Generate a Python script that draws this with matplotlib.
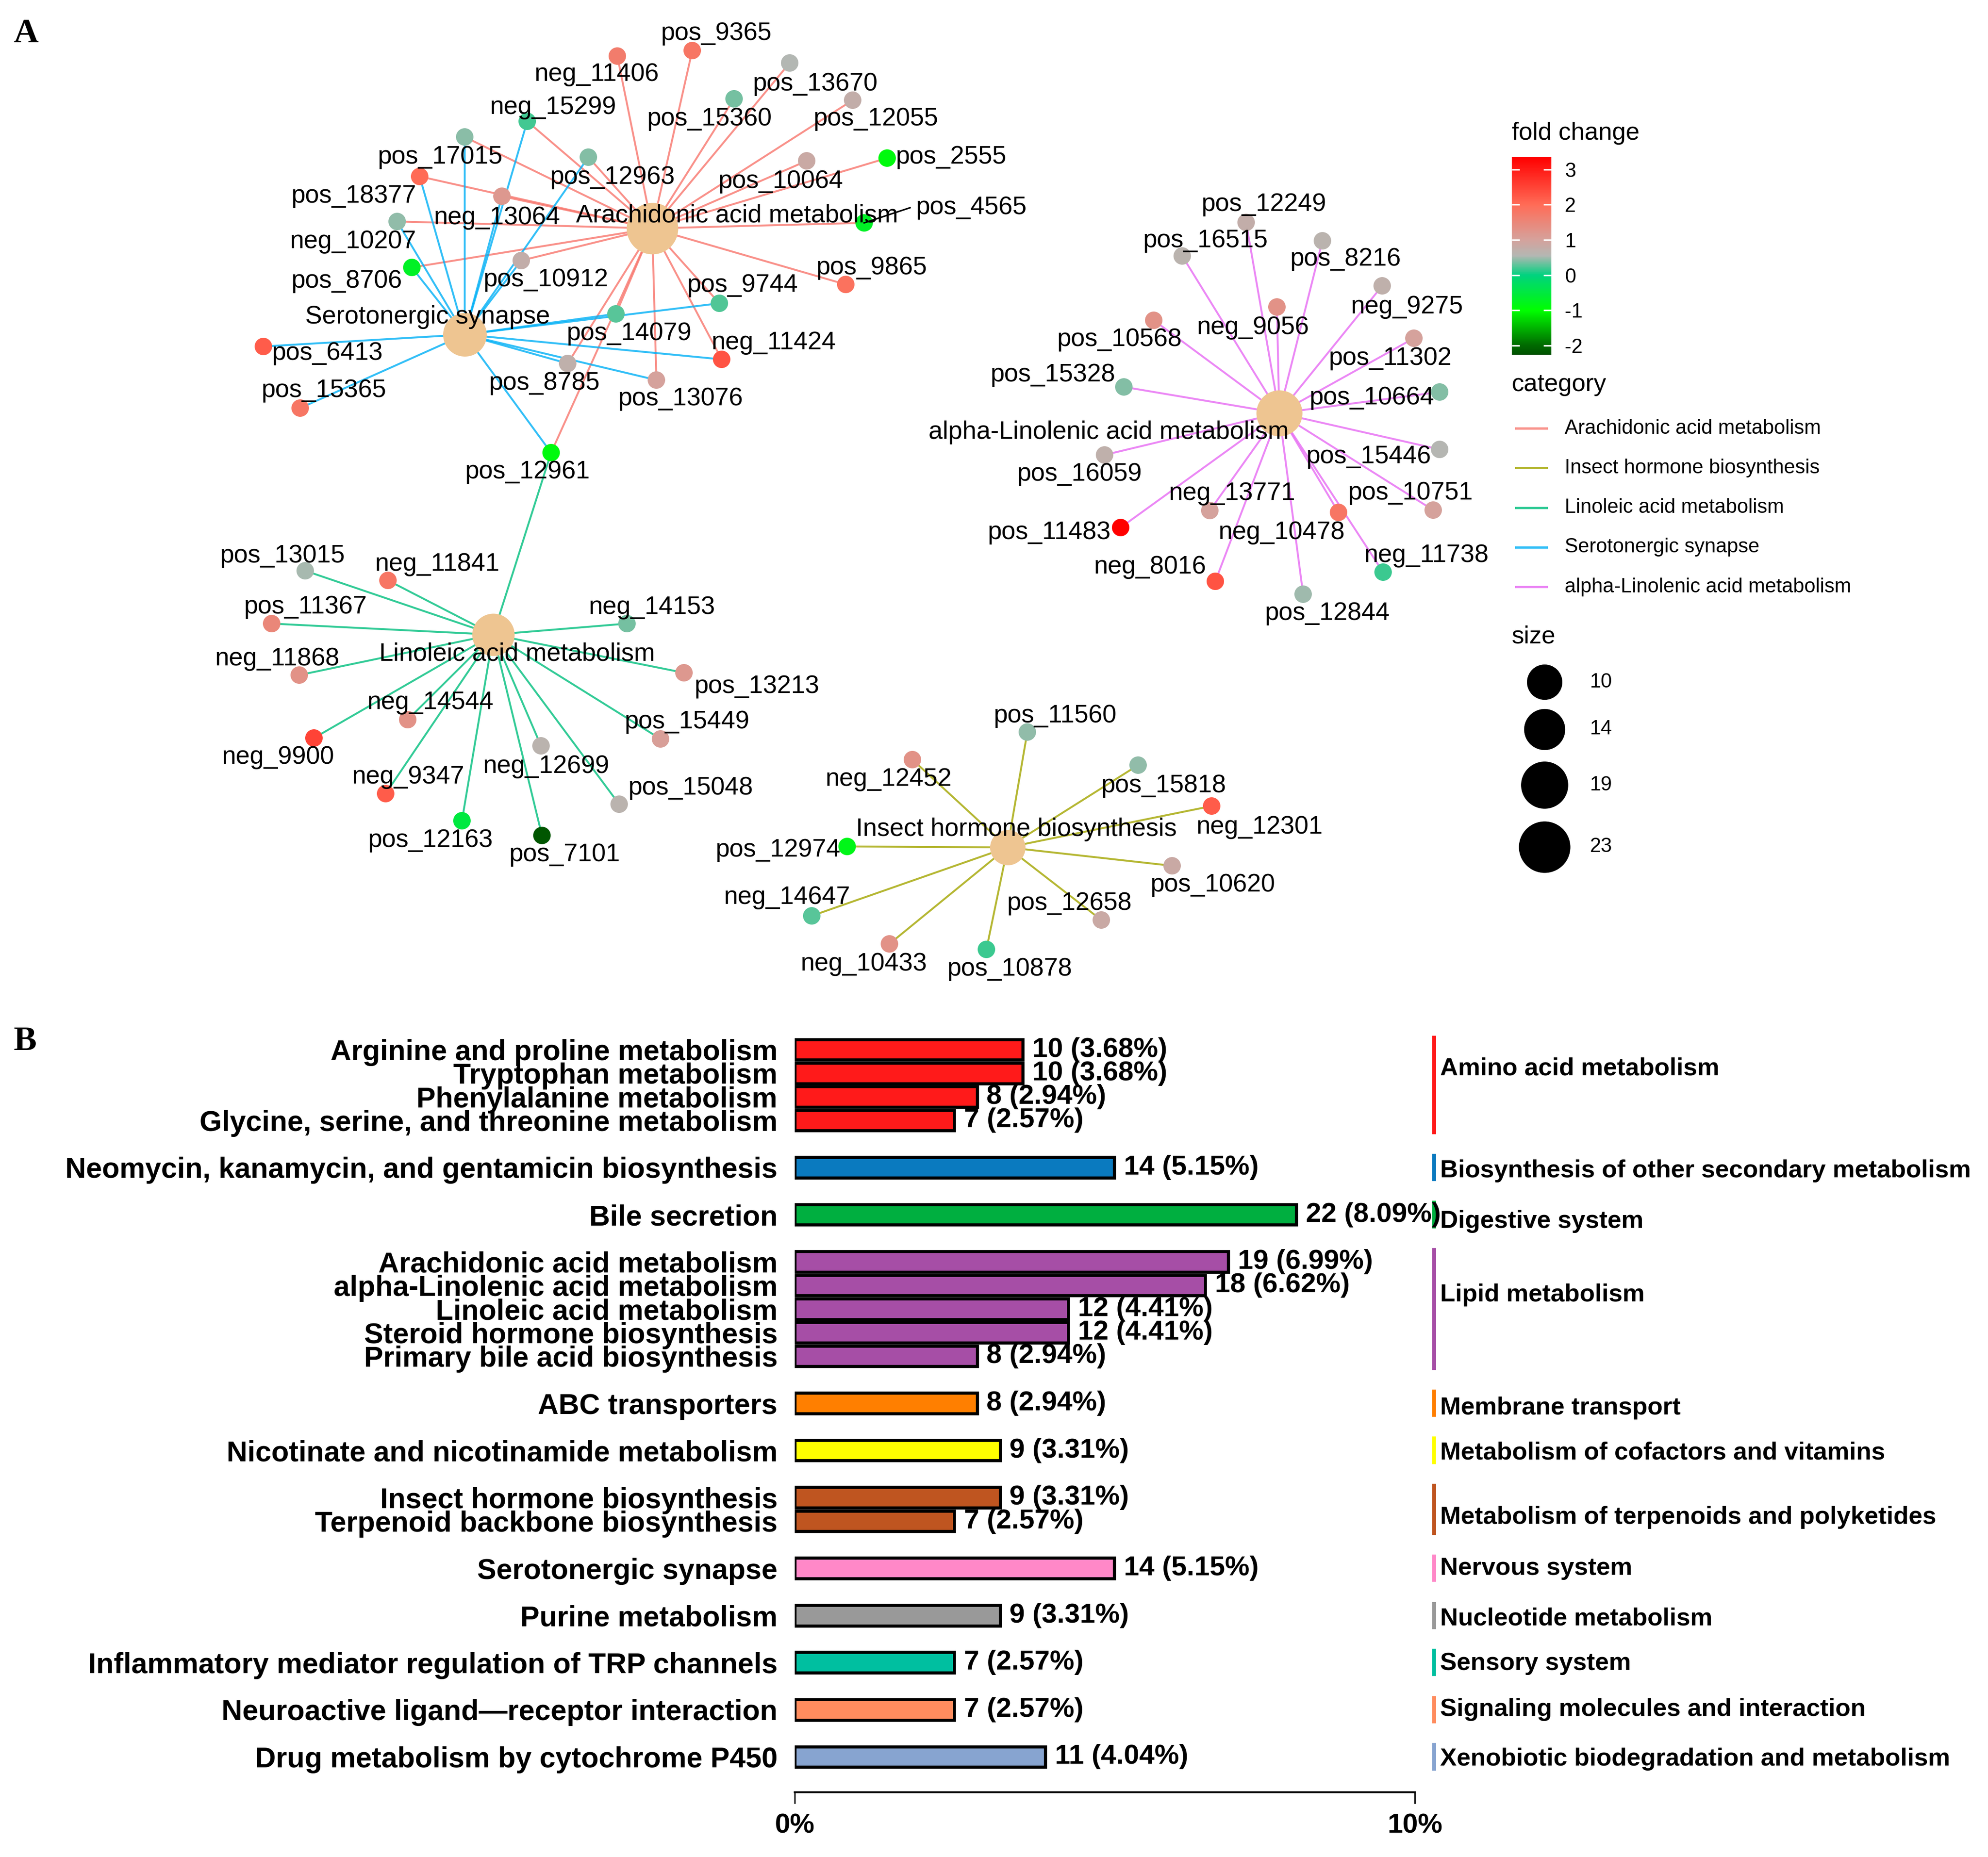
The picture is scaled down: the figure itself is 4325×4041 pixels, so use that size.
import numpy as np
import matplotlib
matplotlib.use('Agg')
import matplotlib.pyplot as plt
from matplotlib.colors import LinearSegmentedColormap, Normalize
from matplotlib.cm import ScalarMappable

plt.rcParams['font.family'] = ['Liberation Sans', 'DejaVu Sans']
plt.rcParams['axes.unicode_minus'] = False

W, H = 4325, 4041
DPI = 300
PT = 72 / DPI  # points per pixel

# ---------------- panel A data ----------------
pathways = ['Arachidonic acid metabolism', 'Insect hormone biosynthesis',
            'Linoleic acid metabolism', 'Serotonergic synapse',
            'alpha-Linolenic acid metabolism']
pathway_colors = ['#F8766D', '#A3A500', '#00BF7D', '#00B0F6', '#E76BF3']

arachidonic = ['pos_9365', 'neg_11406', 'pos_13670', 'pos_15360', 'pos_12055',
               'pos_2555', 'pos_10064', 'pos_4565', 'pos_9865', 'neg_15299',
               'pos_17015', 'pos_12963', 'pos_18377', 'neg_13064', 'neg_10207',
               'pos_8706', 'pos_10912', 'pos_9744', 'pos_14079', 'neg_11424',
               'pos_8785', 'pos_13076', 'pos_12961']
serotonergic = ['neg_15299', 'pos_17015', 'pos_12963', 'pos_18377', 'neg_13064',
                'neg_10207', 'pos_8706', 'pos_10912', 'pos_9744', 'pos_14079',
                'pos_8785', 'pos_13076', 'neg_11424', 'pos_12961', 'pos_6413',
                'pos_15365']
linoleic = ['pos_13015', 'neg_11841', 'pos_11367', 'neg_14153', 'neg_11868',
            'pos_13213', 'neg_14544', 'pos_15449', 'neg_9900', 'neg_12699',
            'neg_9347', 'pos_15048', 'pos_12163', 'pos_7101', 'pos_12961']
alpha_linolenic = ['pos_12249', 'pos_16515', 'pos_8216', 'neg_9275', 'neg_9056',
                   'pos_10568', 'pos_11302', 'pos_15328', 'pos_10664', 'pos_16059',
                   'pos_15446', 'pos_11483', 'neg_13771', 'pos_10751', 'neg_10478',
                   'neg_8016', 'neg_11738', 'pos_12844']
insect_hormone = ['pos_11560', 'neg_12452', 'pos_15818', 'neg_12301', 'pos_12974',
                  'pos_10620', 'neg_14647', 'pos_12658', 'neg_10433', 'pos_10878']
pathway_members = [arachidonic, insect_hormone, linoleic, serotonergic, alpha_linolenic]

fold_change = {
    'pos_9365': 1.8, 'neg_11406': 1.7, 'pos_13670': 0.55, 'pos_15360': 0.35,
    'pos_12055': 0.75, 'pos_2555': -0.9, 'pos_10064': 0.85, 'pos_4565': -0.7,
    'pos_9865': 1.9, 'neg_15299': 0.2, 'pos_17015': 0.42, 'pos_12963': 0.4,
    'pos_18377': 2.0, 'neg_13064': 1.2, 'neg_10207': 0.45, 'pos_8706': -0.7,
    'pos_10912': 0.75, 'pos_9744': 0.25, 'pos_14079': 0.28, 'neg_11424': 2.3,
    'pos_8785': 0.7, 'pos_13076': 1.0, 'pos_12961': -0.9, 'pos_6413': 2.2,
    'pos_15365': 1.8,
    'pos_12249': 0.75, 'pos_16515': 0.65, 'pos_8216': 0.65, 'neg_9275': 0.7,
    'neg_9056': 1.3, 'pos_10568': 1.3, 'pos_11302': 1.0, 'pos_15328': 0.4,
    'pos_10664': 0.4, 'pos_16059': 0.72, 'pos_15446': 0.58, 'pos_11483': 3.35,
    'neg_13771': 1.0, 'pos_10751': 1.0, 'neg_10478': 1.8, 'neg_8016': 2.3,
    'neg_11738': 0.18, 'pos_12844': 0.5,
    'pos_13015': 0.52, 'neg_11841': 1.8, 'pos_11367': 1.5, 'neg_14153': 0.35,
    'neg_11868': 1.3, 'pos_13213': 1.2, 'neg_14544': 1.3, 'pos_15449': 1.05,
    'neg_9900': 2.5, 'neg_12699': 0.65, 'neg_9347': 2.2, 'pos_15048': 0.65,
    'pos_12163': -0.5, 'pos_7101': -2.2,
    'pos_11560': 0.45, 'neg_12452': 1.3, 'pos_15818': 0.45, 'neg_12301': 2.2,
    'pos_12974': -0.8, 'pos_10620': 0.85, 'neg_14647': 0.28, 'pos_12658': 0.85,
    'neg_10433': 1.3, 'pos_10878': 0.18,
}

size_breaks = [10, 14, 19, 23]

# network layout (node position, label position), in pixels
node_xy = {
    'Arachidonic acid metabolism': (1419, 497), 'Serotonergic synapse': (1011, 728),
    'Linoleic acid metabolism': (1073, 1381), 'alpha-Linolenic acid metabolism': (2783, 899),
    'Insect hormone biosynthesis': (2192, 1844),
    'pos_9365': (1506, 110), 'neg_11406': (1343, 122), 'pos_13670': (1718, 137),
    'pos_15360': (1597, 215), 'pos_12055': (1855, 218), 'pos_2555': (1930, 344),
    'pos_10064': (1755, 350), 'pos_4565': (1880, 485), 'pos_9865': (1840, 619),
    'neg_15299': (1147, 264), 'pos_17015': (1011, 298), 'pos_12963': (1280, 342),
    'pos_18377': (913, 384), 'neg_13064': (1092, 427), 'neg_10207': (864, 482),
    'pos_8706': (896, 582), 'pos_10912': (1134, 567), 'pos_9744': (1565, 660),
    'pos_14079': (1340, 683), 'neg_11424': (1570, 782), 'pos_8785': (1235, 791),
    'pos_13076': (1428, 827), 'pos_12961': (1199, 985), 'pos_6413': (573, 754),
    'pos_15365': (653, 888),
    'pos_12249': (2711, 484), 'pos_16515': (2572, 557), 'pos_8216': (2877, 524),
    'neg_9275': (3007, 622), 'neg_9056': (2778, 668), 'pos_10568': (2510, 697),
    'pos_11302': (3076, 736), 'pos_15328': (2445, 842), 'pos_10664': (3132, 853),
    'pos_16059': (2403, 990), 'pos_15446': (3132, 978), 'pos_11483': (2438, 1148),
    'neg_13771': (2632, 1111), 'pos_10751': (3118, 1110), 'neg_10478': (2912, 1115),
    'neg_8016': (2644, 1265), 'neg_11738': (3009, 1245), 'pos_12844': (2835, 1293),
    'pos_13015': (664, 1242), 'neg_11841': (844, 1263), 'pos_11367': (591, 1357),
    'neg_14153': (1364, 1357), 'neg_11868': (651, 1469), 'pos_13213': (1488, 1464),
    'neg_14544': (887, 1566), 'pos_15449': (1437, 1608), 'neg_9900': (683, 1606),
    'neg_12699': (1177, 1623), 'neg_9347': (839, 1727), 'pos_15048': (1347, 1750),
    'pos_12163': (1005, 1786), 'pos_7101': (1179, 1818),
    'pos_11560': (2235, 1593), 'neg_12452': (1985, 1653), 'pos_15818': (2476, 1665),
    'neg_12301': (2636, 1754), 'pos_12974': (1843, 1842), 'pos_10620': (2550, 1884),
    'neg_14647': (1766, 1993), 'pos_12658': (2396, 2002), 'neg_10433': (1935, 2054),
    'pos_10878': (2146, 2066),
}
label_xy = {
    'Arachidonic acid metabolism': (1603, 469), 'Serotonergic synapse': (930, 690),
    'Linoleic acid metabolism': (1125, 1424), 'alpha-Linolenic acid metabolism': (2412, 941),
    'Insect hormone biosynthesis': (2211, 1805),
    'pos_9365': (1558, 73), 'neg_11406': (1298, 162), 'pos_13670': (1773, 183),
    'pos_15360': (1543, 259), 'pos_12055': (1905, 259), 'pos_2555': (2069, 342),
    'pos_10064': (1698, 395), 'pos_4565': (2113, 452), 'pos_9865': (1896, 583),
    'neg_15299': (1203, 234), 'pos_17015': (957, 342), 'pos_12963': (1332, 386),
    'pos_18377': (770, 427), 'neg_13064': (1081, 474), 'neg_10207': (768, 526),
    'pos_8706': (754, 612), 'pos_10912': (1187, 609), 'pos_9744': (1615, 621),
    'pos_14079': (1368, 726), 'neg_11424': (1683, 746), 'pos_8785': (1184, 834),
    'pos_13076': (1480, 868), 'pos_12961': (1147, 1027), 'pos_6413': (712, 769),
    'pos_15365': (704, 850),
    'pos_12249': (2749, 445), 'pos_16515': (2622, 524), 'pos_8216': (2927, 564),
    'neg_9275': (3061, 668), 'neg_9056': (2726, 713), 'pos_10568': (2435, 739),
    'pos_11302': (3024, 780), 'pos_15328': (2290, 816), 'pos_10664': (2984, 866),
    'pos_16059': (2348, 1032), 'pos_15446': (2977, 994), 'pos_11483': (2282, 1159),
    'neg_13771': (2680, 1074), 'pos_10751': (3068, 1073), 'neg_10478': (2788, 1159),
    'neg_8016': (2502, 1234), 'neg_11738': (3103, 1209), 'pos_12844': (2887, 1335),
    'pos_13015': (614, 1210), 'neg_11841': (951, 1228), 'pos_11367': (664, 1321),
    'neg_14153': (1418, 1322), 'neg_11868': (603, 1434), 'pos_13213': (1646, 1494),
    'neg_14544': (936, 1529), 'pos_15449': (1494, 1571), 'neg_9900': (605, 1648),
    'neg_12699': (1188, 1668), 'neg_9347': (888, 1691), 'pos_15048': (1502, 1715),
    'pos_12163': (936, 1829), 'pos_7101': (1228, 1860),
    'pos_11560': (2295, 1558), 'neg_12452': (1933, 1696), 'pos_15818': (2531, 1710),
    'neg_12301': (2740, 1800), 'pos_12974': (1692, 1850), 'pos_10620': (2638, 1926),
    'neg_14647': (1712, 1953), 'pos_12658': (2326, 1966), 'neg_10433': (1879, 2098),
    'pos_10878': (2196, 2109),
}

# ---------------- panel B data ----------------
bar_terms = ['Arginine and proline metabolism', 'Tryptophan metabolism',
             'Phenylalanine metabolism', 'Glycine, serine, and threonine metabolism',
             'Neomycin, kanamycin, and gentamicin biosynthesis', 'Bile secretion',
             'Arachidonic acid metabolism', 'alpha-Linolenic acid metabolism',
             'Linoleic acid metabolism', 'Steroid hormone biosynthesis',
             'Primary bile acid biosynthesis', 'ABC transporters',
             'Nicotinate and nicotinamide metabolism', 'Insect hormone biosynthesis',
             'Terpenoid backbone biosynthesis', 'Serotonergic synapse',
             'Purine metabolism', 'Inflammatory mediator regulation of TRP channels',
             'Neuroactive ligand\u2014receptor interaction',
             'Drug metabolism by cytochrome P450']
bar_counts = [10, 10, 8, 7, 14, 22, 19, 18, 12, 12, 8, 8, 9, 9, 7, 14, 9, 7, 7, 11]
bar_pcts = [3.68, 3.68, 2.94, 2.57, 5.15, 8.09, 6.99, 6.62, 4.41, 4.41, 2.94, 2.94,
            3.31, 3.31, 2.57, 5.15, 3.31, 2.57, 2.57, 4.04]
class_names = ['Amino acid metabolism', 'Biosynthesis of other secondary metabolism',
               'Digestive system', 'Lipid metabolism', 'Membrane transport',
               'Metabolism of cofactors and vitamins',
               'Metabolism of terpenoids and polyketides', 'Nervous system',
               'Nucleotide metabolism', 'Sensory system',
               'Signaling molecules and interaction',
               'Xenobiotic biodegradation and metabolism']
class_sizes = [4, 1, 1, 5, 1, 1, 2, 1, 1, 1, 1, 1]
class_colors = ['#FF1A1A', '#0A7ABF', '#00AF40', '#A64EA6', '#FF7F00', '#FFFF00',
                '#BF5520', '#FF88C8', '#999999', '#00BFA0', '#FF8C5E', '#87A4D0']
# vertical nudge of each class label (in rows), as placed in the original
class_label_dy = [-0.7, 0.15, 0.3, -0.6, 0.2, 0.1, 0.35, 0.0, 0.15, 0.05, 0.0, 0.1]

# ---------------- figure ----------------
fig = plt.figure(figsize=(W / DPI, H / DPI), dpi=DPI)
ax = fig.add_axes([0, 0, 1, 1])
ax.set_xlim(0, W)
ax.set_ylim(H, 0)
ax.axis('off')

fc_stops = [(-2.26, '#005200'), (-2.0, '#006A00'), (-1.0, '#00FF00'), (0.0, '#00D27F'),
            (0.55, '#B3B7B3'), (1.0, '#D5A29C'), (2.0, '#FF6C57'), (3.35, '#FF0000')]
vmin, vmax = fc_stops[0][0], fc_stops[-1][0]
cmap = LinearSegmentedColormap.from_list(
    'fc', [((v - vmin) / (vmax - vmin), c) for v, c in fc_stops])
norm = Normalize(vmin, vmax)


def node_diam(n):
    # pixel diameter of a pathway node with n members
    return 77 + (np.sqrt(n) - np.sqrt(10)) * 21.4


# edges
for pw, members, col in zip(pathways, pathway_members, pathway_colors):
    hx, hy = node_xy[pw]
    for m in members:
        x, y = node_xy[m]
        ax.plot([hx, x], [hy, y], color=col, alpha=0.8, lw=1.0, zorder=1,
                solid_capstyle='butt')

# leaf nodes
leaves = list(fold_change.keys())
ax.scatter([node_xy[m][0] for m in leaves], [node_xy[m][1] for m in leaves],
           c=[fold_change[m] for m in leaves], cmap=cmap, norm=norm,
           s=(38 * PT) ** 2, linewidths=0, zorder=3)

# pathway nodes
for pw, members in zip(pathways, pathway_members):
    x, y = node_xy[pw]
    ax.scatter([x], [y], s=(node_diam(len(members)) * PT) ** 2, color='#EEC591',
               linewidths=0, zorder=3)

# labels
for name, (lx, ly) in label_xy.items():
    ax.text(lx, ly, name, fontsize=13.2, ha='center', va='center', zorder=5)
# repel segment for pos_4565
x0, y0 = node_xy['pos_4565']
ax.plot([x0, 1980], [y0, 452], color='black', lw=0.8, zorder=4)

# panel letters
ax.text(56, 74, 'A', fontsize=18, fontweight='bold', family='Liberation Serif',
        ha='center', va='center')
ax.text(55, 2267, 'B', fontsize=18, fontweight='bold', family='Liberation Serif',
        ha='center', va='center')

# ---- legends ----
ax.text(3289, 290, 'fold change', fontsize=12.9, ha='left', va='center')
cax = fig.add_axes([3289 / W, 1 - 772 / H, 86 / W, 430 / H])
cbar_ticks = [-2, -1, 0, 1, 2, 3]
cb = fig.colorbar(ScalarMappable(norm=norm, cmap=cmap), cax=cax, ticks=cbar_ticks)
cb.outline.set_visible(False)
cax.tick_params(length=0, pad=7, labelsize=10.5)
cax.hlines(cbar_ticks, 0, 0.2, colors='white', lw=0.8, transform=cax.get_yaxis_transform())
cax.hlines(cbar_ticks, 0.8, 1, colors='white', lw=0.8, transform=cax.get_yaxis_transform())

ax.text(3289, 837, 'category', fontsize=12.9, ha='left', va='center')
for i, (pw, col) in enumerate(zip(pathways, pathway_colors)):
    y = 932 + i * 86.3
    ax.plot([3298, 3365], [y, y], color=col, alpha=0.8, lw=1.2)
    ax.text(3404, y, pw, fontsize=10.5, ha='left', va='center')

ax.text(3289, 1385, 'size', fontsize=12.9, ha='left', va='center')
for n, y in zip(size_breaks, [1484, 1587, 1708, 1843]):
    ax.scatter([3360], [y], s=(node_diam(n) * PT) ** 2, color='black', linewidths=0)
    ax.text(3459, y, str(n), fontsize=10.5, ha='left', va='center')

# ---------------- panel B ----------------
row0_px, slot_px = 2284, 51.3
top_px, axis_px, x0_px, x10_px = 2245, 3900, 1729, 3078
axb = fig.add_axes([x0_px / W, 1 - axis_px / H, (x10_px - x0_px) / W, (axis_px - top_px) / H])
axb.set_facecolor('none')

slots, bar_colors = [], []
k = 0
group_slots = []
for size, col in zip(class_sizes, class_colors):
    g = []
    for _ in range(size):
        slots.append(k)
        bar_colors.append(col)
        g.append(k)
        k += 1
    group_slots.append(g)
    k += 1

axb.barh(slots, bar_pcts, height=0.87, color=bar_colors, edgecolor='black', linewidth=1.6)
for y, n, p in zip(slots, bar_counts, bar_pcts):
    axb.annotate(f'{n} ({p:.2f}%)', (p, y), xytext=(5, 0), textcoords='offset points',
                 ha='left', va='center', fontsize=14.4, fontweight='bold')

axb.set_xlim(0, 10)
axb.set_ylim((axis_px - row0_px) / slot_px, (top_px - row0_px) / slot_px)
axb.set_yticks(slots, bar_terms, fontsize=15, fontweight='bold')
axb.tick_params(axis='y', length=0, pad=9)
axb.set_xticks([0, 10], ['0%', '10%'], fontsize=14.4, fontweight='bold')
axb.tick_params(axis='x', length=6, width=0.7, pad=5)
for s in ['top', 'right', 'left']:
    axb.spines[s].set_visible(False)
axb.spines['bottom'].set_linewidth(1.0)

x_line = (3120 - x0_px) / (x10_px - x0_px) * 10
x_text = (3133 - x0_px) / (x10_px - x0_px) * 10
for name, col, g, dy in zip(class_names, class_colors, group_slots, class_label_dy):
    axb.plot([x_line, x_line], [g[0] - 0.5, g[-1] + 0.5], color=col, lw=2, clip_on=False)
    axb.text(x_text, (g[0] + g[-1]) / 2 + dy, name, fontsize=13, fontweight='bold',
             ha='left', va='center', clip_on=False)

fig.savefig('out.png', dpi=DPI)
